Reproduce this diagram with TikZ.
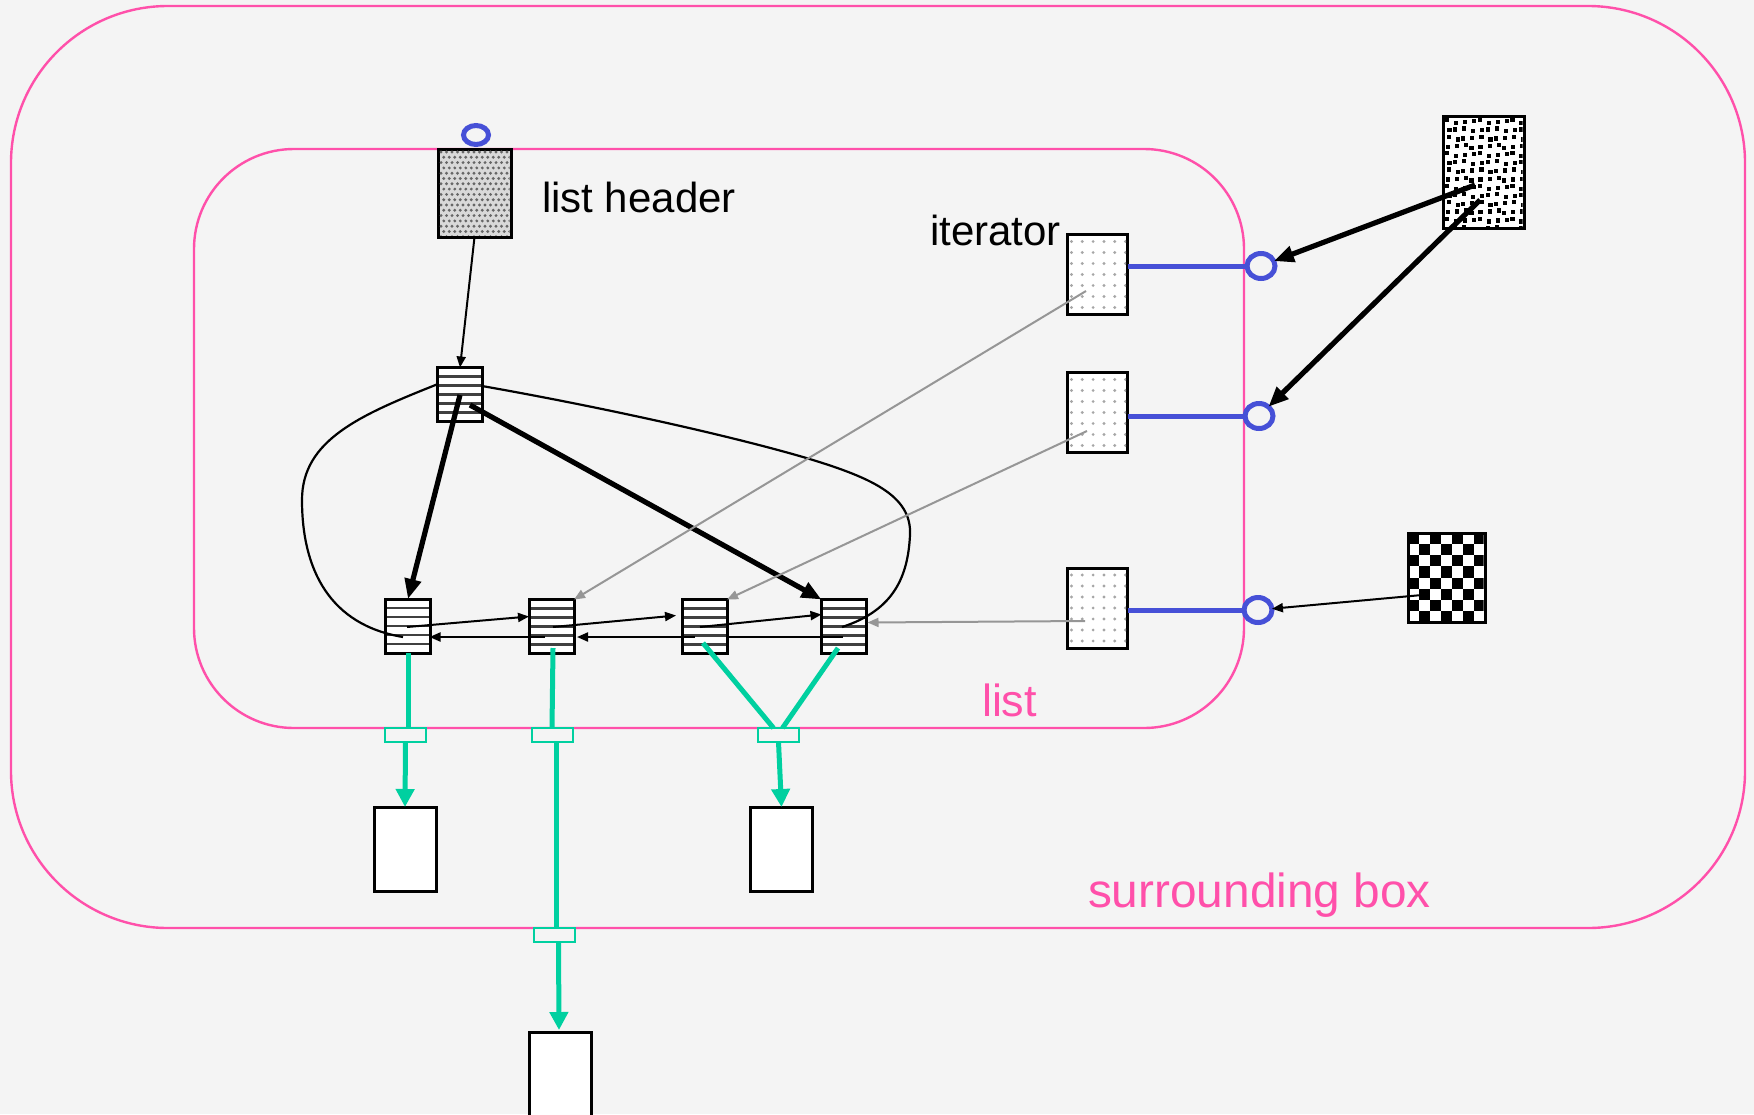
\documentclass[tikz,border=0pt]{standalone}
\usepackage{fontspec}
\setmainfont{Liberation Sans}
\usetikzlibrary{arrows.meta,calc,shapes.geometric}
\definecolor{bg}{HTML}{F4F4F4}
\definecolor{pinkc}{RGB}{255,80,170}
\definecolor{tealc}{RGB}{0,208,160}
\definecolor{bluec}{RGB}{70,80,215}
\definecolor{grayc}{RGB}{150,150,150}
\begin{document}
\begin{tikzpicture}[x=0.5pt,y=-0.5pt,
  every node/.style={inner sep=0pt, outer sep=0pt},
  container/.style={draw=pinkc, line width=1.2pt},
  lnode/.style={draw, line width=1.5pt, fill=white, minimum width=22.5pt, minimum height=27pt,
    path picture={\foreach \f in {1,...,5}
      \draw[black!75, line width=1.2pt] ($(path picture bounding box.north west)!\f/6!(path picture bounding box.south west)$) -- ++(80,0);}},
  itbox/.style={draw, line width=1.5pt, fill=white, minimum width=30pt, minimum height=40pt},
  lhbox/.style={draw, line width=1.5pt, fill=gray!30, minimum width=36.5pt, minimum height=44pt},
  trbox/.style={draw, line width=1.5pt, fill=white, minimum width=40.5pt, minimum height=56pt},
  ckbox/.style={draw, line width=1.5pt, fill=white, minimum width=38.5pt, minimum height=44.5pt},
  wbox/.style={draw, line width=1.5pt, fill=white, minimum width=31pt, minimum height=42pt},
  port/.style={draw=tealc, fill=bg, line width=1pt, minimum width=20.5pt, minimum height=7pt},
  blueell/.style={ellipse, draw=bluec, line width=2.5pt, minimum width=14pt, minimum height=12.5pt},
  bigarrow/.style={line width=2.6pt, -{Triangle[length=10pt,width=8pt]}},
  thinarrow/.style={line width=1pt, -{Triangle[length=5.5pt,width=4.5pt]}},
  thinline/.style={line width=1pt},
  curveline/.style={line width=1.1pt},
  grayarr/.style={grayc, line width=1pt, -{Triangle[length=5.5pt,width=4.5pt]}},
  tealarr/.style={tealc, line width=2.5pt, -{Triangle[length=9pt,width=9pt]}},
  teall/.style={tealc, line width=2.5pt},
  blueline/.style={bluec, line width=2.5pt},
  lbl/.style={anchor=base west, font=\fontsize{21}{25}\selectfont},
  plbl/.style={anchor=base west, text=pinkc}
]
\fill[bg] (0,0) rectangle (1754,1114);
\useasboundingbox (0,0) rectangle (1754,1114);

% containers
\node[container, rounded corners=78.5pt, minimum width=867pt, minimum height=461pt] (outer) at (878,467) {};
\node[container, rounded corners=50pt, minimum width=525pt, minimum height=289.5pt] (inner) at (719,438.5) {};

% texts
\node[lbl] (tlh) at (542,212) {list header};
\node[lbl] (tit) at (930,245) {iterator};
\node[plbl, font=\fontsize{22.5}{26}\selectfont] (tlist) at (982,716) {list};
\node[plbl, font=\fontsize{23.9}{28}\selectfont] (tsur) at (1088,907) {surrounding box};

% nodes
\node[lhbox] (lh) at (474.5,193) {};
\node[blueell, minimum width=12.5pt, minimum height=9.5pt] (e0) at (476,135) {};
\node[lnode] (hn) at (460,394.5) {};
\node[lnode] (n1) at (408,626) {};
\node[lnode] (n2) at (551.5,626.5) {};
\node[lnode] (n3) at (704.5,626.5) {};
\node[lnode] (n4) at (844,626.5) {};
\node[itbox] (it1) at (1097.5,274.5) {};
\node[itbox] (it2) at (1097.5,412.5) {};
\node[itbox] (it3) at (1097.5,608) {};
\node[blueell] (c1) at (1261,266) {};
\node[blueell] (c2) at (1259,416) {};
\node[blueell] (c3) at (1258,610) {};
\node[trbox] (tr) at (1483.5,172.5) {};
\node[ckbox] (ck) at (1446.5,577.5) {};
\node[wbox] (b1) at (405,849) {};
\node[wbox] (b3) at (781.5,849) {};
\node[wbox] (b2) at (560,1074) {};
\node[port] (p1) at (405.5,735) {};
\node[port] (p2) at (552,735) {};
\node[port] (p3) at (778.5,735) {};
\node[port] (p4) at (554.5,935) {};

% fill patterns
\begin{scope}
  \clip ($(lh.north west)+(1.5,1.5)$) rectangle ($(lh.south east)+(-1.5,-1.5)$);
  \begin{scope}[shift={(lh.north west)}]
    \foreach \i in {0,...,13} \foreach \j in {0,...,16} {
      \pgfmathsetmacro\xx{3+\i*5.5+mod(\j,2)*2.75}
      \fill[black!60] (\xx, 3+\j*5.3) circle (0.8pt);}
  \end{scope}
\end{scope}
\foreach \nm in {it1,it2,it3} {
  \begin{scope}
    \clip ($(\nm.north west)+(1.5,1.5)$) rectangle ($(\nm.south east)+(-1.5,-1.5)$);
    \begin{scope}[shift={(\nm.north west)}]
      \foreach \i in {0,...,5} \foreach \j in {0,...,7}
        \fill[gray!70] (4+\i*10.8, 7+\j*11) circle (0.8pt);
    \end{scope}
  \end{scope}
}
\begin{scope}
  \clip ($(tr.north west)+(1.5,1.5)$) rectangle ($(tr.south east)+(-1.5,-1.5)$);
  \begin{scope}[shift={(tr.north west)}]
    \foreach \i in {0,...,9} \foreach \j in {0,...,13} {
      \pgfmathsetmacro\xx{3+\i*8.2+mod(\j*3+\i*5,4)*0.9-1.3}
      \pgfmathsetmacro\yy{3+\j*8.2+mod(\i*7+\j*2,4)*0.9-1.3}
      \fill (\xx,\yy) rectangle ++(4.2,4.2);}
  \end{scope}
\end{scope}
\begin{scope}
  \clip ($(ck.north west)+(1.5,1.5)$) rectangle ($(ck.south east)+(-1.5,-1.5)$);
  \begin{scope}[shift={(ck.north west)}]
    \foreach \i in {0,2,4,6} \foreach \j in {0,2,4,6} \fill (\i*11,\j*11.125) rectangle ++(11,11.125);
    \foreach \i in {1,3,5} \foreach \j in {1,3,5,7} \fill (\i*11,\j*11.125) rectangle ++(11,11.125);
  \end{scope}
\end{scope}

% blue lines
\draw[blueline] (it1.east |- c1.center) -- (c1.west);
\draw[blueline] (it2.east |- c2.center) -- (c2.west);
\draw[blueline] (it3.east |- c3.center) -- (c3.west);

% big loop curves
\coordinate (la) at (438,384);
\coordinate (lb) at (302,500);
\coordinate (lc) at (403,637);
\draw[curveline] (la) .. controls (360,415) and (302,440) .. (lb) .. controls (302,570) and (330,625) .. (lc);
\coordinate (ra) at (482,386);
\coordinate (rb) at (803,457);
\coordinate (rc) at (910,535);
\coordinate (rd) at (842,627);
\draw[curveline] (ra) .. controls (590,405) and (720,433) .. (rb) .. controls (870,477) and (912,495) .. (rc) .. controls (908,575) and (895,610) .. (rd);

% header arrows
\draw[thinarrow] (lh.south) -- (hn.north);
\coordinate (h1) at (460,395);
\coordinate (h2) at (470,405);
\draw[bigarrow] (h1) -- (n1.north);
\draw[bigarrow] (h2) -- (n4.north west);

% forward / backward links
\coordinate (f1) at (407,627);
\coordinate (f2) at (553,627);
\coordinate (f3) at (700,627);
\draw[thinarrow] (f1) -- ($(n2.west)+(0,-10)$);
\draw[thinarrow] (f2) -- ($(n3.west)+(-6,-11)$);
\draw[thinarrow] (f3) -- ($(n4.west)+(0,-12)$);
\coordinate (k4) at (843,637);
\coordinate (k3) at (695,637);
\coordinate (k2) at (545,637);
\draw[thinline] (k4) -- ($(n3.east)+(0,10.5)$);
\draw[thinarrow] (k3) -- ($(n2.east)+(3,10.5)$);
\draw[thinarrow] (k2) -- ($(n1.east)+(-1,11)$);

% iterator gray arrows
\coordinate (g1) at (1086,291);
\coordinate (g2) at (1087,431);
\coordinate (g3) at (1085,621);
\draw[grayarr] (g1) -- (n2.north east);
\draw[grayarr] (g2) -- (n3.north east);
\draw[grayarr] (g3) -- ($(n4.east)+(1,-4)$);

% outer arrows
\coordinate (r1) at (1475,185);
\coordinate (r2) at (1480,200);
\draw[bigarrow] (r1) -- (c1);
\draw[bigarrow] (r2) -- (c2);
\coordinate (q1) at (1422,595);
\draw[thinarrow] (q1) -- (c3);

% teal connectors
\coordinate (t2) at (553,648);
\coordinate (t3) at (703,643);
\coordinate (t4) at (838,648);
\draw[teall] (n1.south) -- (n1.south |- p1.north);
\draw[teall] (t2) -- (p2.north);
\draw[teall] (t3) -- ($(p3.north)+(-5,0)$);
\draw[teall] (t4) -- ($(p3.north)+(4,0)$);
\draw[teall] ($(p2.south)+(4,0)$) -- ($(p4.north)+(1.5,0)$);
\draw[tealarr] (p1.south) -- (b1.north);
\draw[tealarr] (p3.south) -- (b3.north);
\draw[tealarr] ($(p4.south)+(4,0)$) -- ($(b2.north)+(-1,-2)$);
\end{tikzpicture}
\end{document}
